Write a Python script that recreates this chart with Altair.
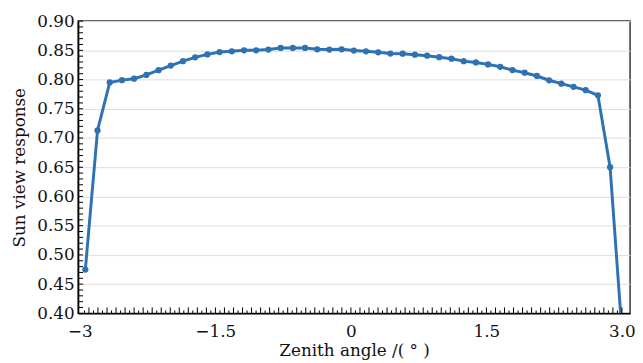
import altair as alt
import pandas as pd
import numpy as np

# Data
zenith = [-2.940, -2.805, -2.670, -2.535, -2.400, -2.264, -2.129, -1.994, -1.859,
          -1.724, -1.589, -1.454, -1.319, -1.184, -1.049, -0.914, -0.778, -0.643,
          -0.508, -0.373, -0.238, -0.103, 0.032, 0.167, 0.302, 0.437, 0.573,
          0.708, 0.843, 0.978, 1.113, 1.248, 1.383, 1.518, 1.653, 1.788, 1.923,
          2.059, 2.194, 2.329, 2.464, 2.599, 2.734, 2.869, 3.004]
response = [0.475, 0.713, 0.795, 0.799, 0.8015, 0.808, 0.816, 0.824, 0.8315,
            0.838, 0.843, 0.847, 0.8484, 0.850, 0.850, 0.8513, 0.854, 0.854,
            0.854, 0.8518, 0.8513, 0.8518, 0.8496, 0.8484, 0.8467, 0.8445, 0.8442,
            0.8425, 0.8408, 0.8382, 0.8357, 0.8315, 0.8293, 0.8259, 0.8218, 0.8162,
            0.8117, 0.8061, 0.7988, 0.793, 0.7875, 0.7819, 0.773, 0.650, 0.36]

x_ticks_major = [-3, -1.5, 0, 1.5, 3]
y_ticks_major = [0.40, 0.45, 0.50, 0.55, 0.60, 0.65, 0.70, 0.75, 0.80, 0.85, 0.90]

x_minor_long = [round(v, 2) for v in np.arange(-2.9, 3.05, 0.1)]
x_minor_short = [round(v, 2) for v in np.arange(-2.95, 3.05, 0.1)]
y_minor = [round(v, 2) for v in np.arange(0.40, 0.905, 0.01)]

W, H = 559, 296
FONT = "DejaVu Serif"
COLOR = "#2e72b4"

df = pd.DataFrame({"x": zenith, "y": response})

xscale = alt.Scale(domain=[-3.02, 3.09], nice=False, zero=False)
yscale = alt.Scale(domain=[0.40, 0.90], nice=False, zero=False)

label_expr = ("datum.value == 3 ? '3.0' : datum.value == -3 ? '\u22123' : "
              "datum.value == -1.5 ? '\u22121.5' : datum.value == 1.5 ? '1.5' : '0'")

xaxis = alt.Axis(values=x_ticks_major, labelExpr=label_expr, ticks=False,
                 tickSize=0, grid=False, labelPadding=10, labelOverlap=False,
                 title="Zenith angle /( \u00b0 )", titlePadding=4)
yaxis = alt.Axis(values=y_ticks_major, format=".2f", ticks=False,
                 tickSize=0, grid=True, gridColor="#dcdcdc", labelOverlap=False,
                 labelPadding=4, title="Sun view response", titlePadding=8)

base = alt.Chart(df)

line = base.mark_line(color=COLOR, strokeWidth=3, clip=True).encode(
    x=alt.X("x:Q", scale=xscale, axis=xaxis),
    y=alt.Y("y:Q", scale=yscale, axis=yaxis),
)
points = base.mark_point(filled=True, color=COLOR, size=40, opacity=1, clip=True).encode(
    x=alt.X("x:Q", scale=xscale, axis=xaxis), y=alt.Y("y:Q", scale=yscale, axis=yaxis)
)

xl = alt.Chart(pd.DataFrame({"t": x_minor_long})).mark_rule(color="black", strokeWidth=1).encode(
    x=alt.X("t:Q", scale=xscale, axis=xaxis), y=alt.value(H), y2=alt.value(H - 6))
xs = alt.Chart(pd.DataFrame({"t": x_minor_short})).mark_rule(color="black", strokeWidth=1).encode(
    x=alt.X("t:Q", scale=xscale, axis=xaxis), y=alt.value(H), y2=alt.value(H - 3))
ym = alt.Chart(pd.DataFrame({"t": y_minor})).mark_rule(color="black", strokeWidth=1).encode(
    y=alt.Y("t:Q", scale=yscale, axis=yaxis), x=alt.value(0), x2=alt.value(5))

chart = alt.layer(line, points, xl, xs, ym).properties(
    width=W, height=H,
    autosize=alt.AutoSizeParams(type="none"),
    padding={"left": 71, "top": 11, "right": 5, "bottom": 48},
).configure_view(stroke="#333333", strokeWidth=1.5).configure_axis(
    domainColor="black", domainWidth=1.5,
    labelFont=FONT, labelFontSize=17, labelColor="#111",
    titleFont=FONT, titleFontSize=17, titleFontWeight="normal", titleColor="#111",
)

chart.save("out.html", embed_options={"renderer": "svg", "actions": False})
